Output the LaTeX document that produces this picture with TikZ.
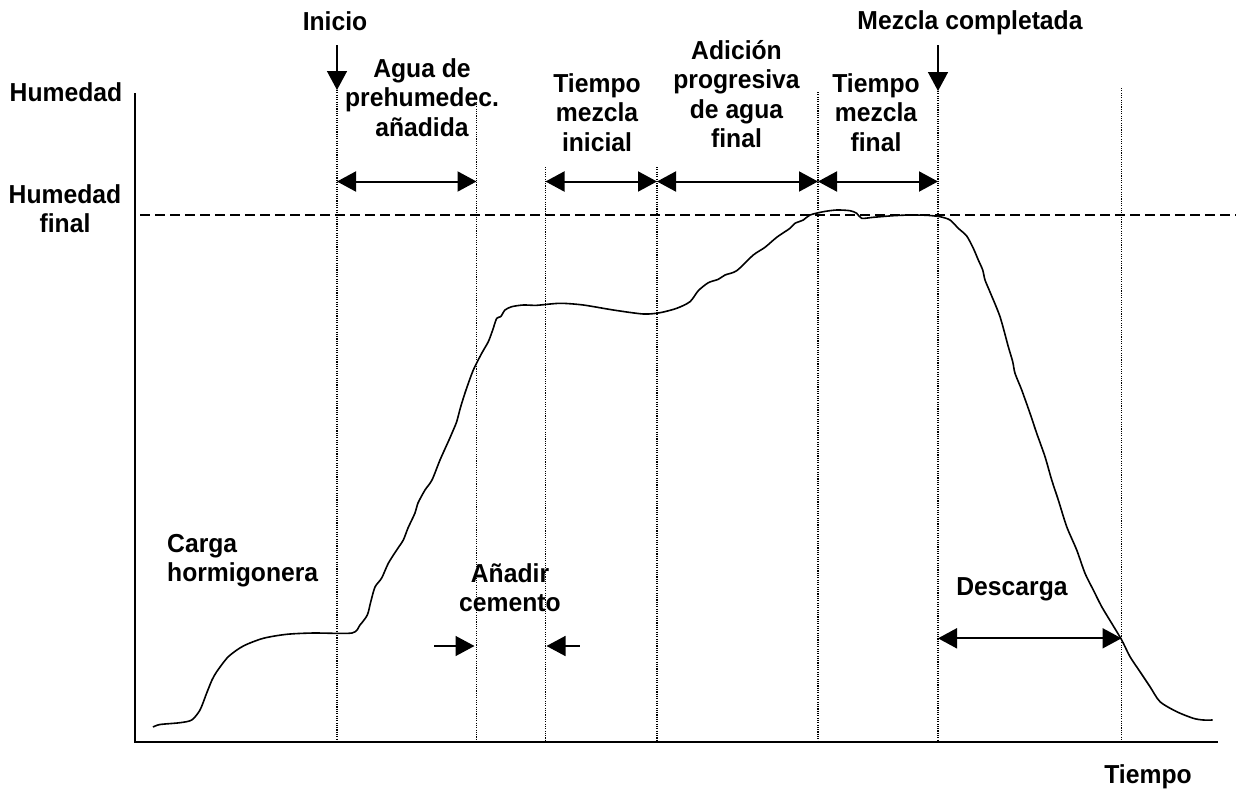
\documentclass[tikz,border=0pt]{standalone}
\usepackage{fontspec}
\setmainfont{Liberation Sans}[FakeStretch=0.95]
\usetikzlibrary{arrows.meta}
\begin{document}
\begin{tikzpicture}[x=1pt,y=-1pt,
  lbl/.style={font=\fontsize{26}{29.5}\selectfont\bfseries, inner sep=0pt, align=center, anchor=north},
  guide/.style={line width=1.1pt, dash pattern=on 1.1pt off 1.2pt},
  tipk/.tip={Triangle[length=19pt,width=20pt]},
  span/.style={line width=2pt, tipk-tipk},
  pointer/.style={line width=1.5pt, -tipk},
  axis/.style={line width=2pt},
  curve/.style={line width=1.6pt, line join=round},
  target/.style={line width=1.5pt, dash pattern=on 10pt off 5pt}]
\useasboundingbox (0,0) rectangle (1236,790);
% axes
\coordinate (ytop) at (135,93);
\coordinate (O) at (135,742);
\coordinate (xend) at (1218,742);
\draw[axis] (ytop) -- (O) -- (xend);
% target humidity
\coordinate (tl) at (140,215);
\coordinate (tr) at (1236,215);
\draw[target] (tl) -- (tr);
% guide lines
\foreach \n/\x/\y in {1/337/90, 2/476.5/97, 3/545.5/167, 4/657/167, 5/818/92, 6/938/91, 7/1121.5/88}{
  \coordinate (g\n t) at (\x,\y);
  \coordinate (g\n b) at (\x,742);
  \draw[guide] (g\n t) -- (g\n b);
}
% span arrows
\coordinate (s1a) at (337,181.5);   \coordinate (s1b) at (476.5,181.5);
\coordinate (s2a) at (545.5,181.5); \coordinate (s2b) at (657,181.5);
\coordinate (s3a) at (657,181.5);   \coordinate (s3b) at (818,181.5);
\coordinate (s4a) at (818,181.5);   \coordinate (s4b) at (938,181.5);
\coordinate (s5a) at (938,638.3);   \coordinate (s5b) at (1121.5,638.3);
\draw[span] (s1a) -- (s1b);
\draw[span] (s2a) -- (s2b);
\draw[span] (s3a) -- (s3b);
\draw[span] (s4a) -- (s4b);
\draw[span] (s5a) -- (s5b);
% pointers
\coordinate (p1s) at (337,45);   \coordinate (p1e) at (337,90);
\coordinate (p2s) at (938,45);   \coordinate (p2e) at (938,91);
\coordinate (c1s) at (434,646);  \coordinate (c1e) at (474.5,646);
\coordinate (c2s) at (579.5,646); \coordinate (c2e) at (546.5,646);
\draw[pointer] (p1s) -- (p1e);
\draw[pointer] (p2s) -- (p2e);
\draw[pointer] (c1s) -- (c1e);
\draw[pointer] (c2s) -- (c2e);
% humidity curve
\draw[curve] plot[smooth, tension=0.45] coordinates {
(153,727) (160,724.5) (180,722.7) (191.7,720) (200,710) (206.7,693) (212,680) (216.7,671.7) (228.3,656.7) (243.3,646) (263.3,638.3) (286.7,634.3) (313.3,633) (352,633) (360,625) (367.3,615) (370.7,602) (375,587) (381.7,578) (388.3,563.3) (396.7,550) (403.3,540) (408,528) (415,513) (418,503) (425,490) (432,480) (440,460) (449.3,439.3) (453.3,430) (456.7,421.7) (460.7,406.7) (466,390) (473.3,370) (481.7,353.3) (488.3,341.7) (492.7,330) (496.7,318.3) (500.7,316.7) (505,310) (511.7,306.7) (523.3,305) (536.7,305.3) (560,303.3) (583.3,305) (613.3,310) (643.3,314) (660,312.7) (676.7,308.3) (690,301.7) (698.3,290.7) (708.3,282.7) (718.3,279.3) (725,275) (736.7,270.7) (753.3,255) (765,247.3) (776.7,237.3) (790,228.3) (795,223.3) (803.3,220) (810,215) (823.3,211.7) (836.7,210) (850,210.7) (856.7,213.3) (861.7,218.3) (873.3,217.3) (893.3,215.7) (910,215) (926.7,215.3) (940,216.7) (950,220) (958.3,228.3) (966.7,236) (973.3,248.3) (978.3,260) (982.7,270) (985,280) (990,292) (1000,316.7) (1008.3,346.7) (1012.7,361.7) (1015,373.3) (1021.7,390) (1030,413.3) (1036.7,433.3) (1045,456.7) (1051.7,480) (1058.3,500) (1066.7,526.7) (1076.7,550) (1085,573.3) (1093.3,590) (1101.7,606.7) (1111.7,623.3) (1121.7,640) (1130,656.7) (1140,671.7) (1150,686.7) (1160,701.7) (1176.7,711.7) (1193.3,718.3) (1203.3,720) (1212.7,720)};
% labels
\node[lbl] (inicio) at (335,11) {Inicio};
\node[lbl] (mezcla) at (970,10) {Mezcla completada};
\node[lbl] (hum) at (66,82) {Humedad};
\node[lbl] (humf) at (65,184) {Humedad\\final};
\node[lbl] (agua) at (422,58) {Agua de\\prehumedec.\\añadida};
\node[lbl] (tmi) at (597,73) {Tiempo\\mezcla\\inicial};
\node[lbl] (adic) at (736.5,40) {Adición\\progresiva\\de agua\\final};
\node[lbl] (tmf) at (876,73) {Tiempo\\mezcla\\final};
\node[lbl, anchor=north west, align=left] (carga) at (167,534) {Carga\\hormigonera};
\node[lbl] (cem) at (510,563) {Añadir\\cemento};
\node[lbl] (desc) at (1012,577) {Descarga};
\node[lbl] (tiempo) at (1148,764) {Tiempo};
\end{tikzpicture}
\end{document}
